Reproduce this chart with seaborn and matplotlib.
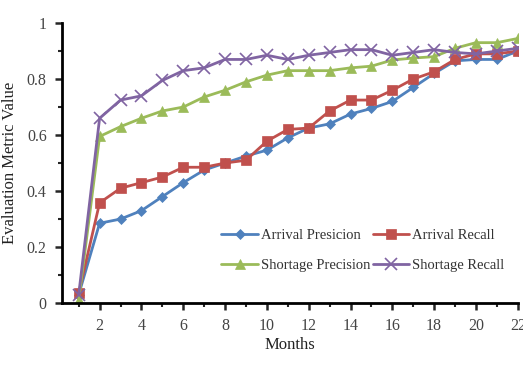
import numpy as np
import pandas as pd
import matplotlib
matplotlib.use('Agg')
import matplotlib.pyplot as plt
from matplotlib.ticker import MultipleLocator
import seaborn as sns

# ---- data ----
months = list(range(1, 23))
arrival_precision = [0.03, 0.285, 0.30, 0.33, 0.38, 0.43, 0.475, 0.50, 0.525, 0.546, 0.59, 0.625,
                     0.64, 0.675, 0.695, 0.72, 0.77, 0.82, 0.865, 0.87, 0.87, 0.90]
arrival_recall = [0.035, 0.358, 0.41, 0.43, 0.45, 0.485, 0.485, 0.50, 0.51, 0.578, 0.62, 0.625,
                  0.686, 0.725, 0.725, 0.76, 0.80, 0.826, 0.87, 0.89, 0.89, 0.90]
shortage_precision = [0.01, 0.595, 0.63, 0.66, 0.686, 0.70, 0.736, 0.76, 0.79, 0.814, 0.83, 0.83,
                      0.83, 0.84, 0.846, 0.868, 0.875, 0.88, 0.91, 0.93, 0.93, 0.945]
shortage_recall = [0.03, 0.66, 0.725, 0.74, 0.795, 0.83, 0.84, 0.87, 0.87, 0.885, 0.87, 0.885,
                   0.895, 0.905, 0.905, 0.885, 0.895, 0.905, 0.895, 0.89, 0.90, 0.91]

series = {
    'Arrival Presicion': arrival_precision,
    'Arrival Recall': arrival_recall,
    'Shortage Precision': shortage_precision,
    'Shortage Recall': shortage_recall,
}
colors = ['#4f81bd', '#c0504d', '#9bbb59', '#8064a2']
markers = ['D', 's', '^', 'x']
msizes = [5, 7, 7, 9]

sns.set_style('ticks')
plt.rcParams['font.family'] = ['Liberation Serif', 'DejaVu Serif']

fig = plt.figure(figsize=(5.23, 3.66), dpi=100)
ax = fig.add_axes([0.1185, 0.172, 0.8715, 0.765])

for (name, vals), c, m, ms in zip(series.items(), colors, markers, msizes):
    df = pd.DataFrame({'Months': months, 'value': vals})
    sns.lineplot(data=df, x='Months', y='value', ax=ax, color=c, marker=m,
                 markersize=ms, markeredgecolor=c, markeredgewidth=1.2 if m == 'x' else 0.5,
                 linewidth=2, label=name)

ax.set_xlim(0.2, 22)
ax.set_ylim(0, 1)
ax.xaxis.set_minor_locator(MultipleLocator(1))
ax.yaxis.set_minor_locator(MultipleLocator(0.1))
ax.set_xticks(range(2, 23, 2))
ax.set_xticklabels([str(v) for v in range(2, 23, 2)])
ax.set_yticks([0, 0.2, 0.4, 0.6, 0.8, 1.0])
ax.set_yticklabels(['0', '0.2', '0.4', '0.6', '0.8', '1'])

sns.despine(ax=ax)
for s in ['left', 'bottom']:
    ax.spines[s].set_linewidth(2)
    ax.spines[s].set_color('black')
ax.tick_params(which='major', length=5, width=1.8, labelsize=11.5, labelcolor='#444444', pad=6)
ax.tick_params(which='minor', length=3, width=1.5)

ax.set_xlabel('Months', fontsize=12, color='#222222', labelpad=2)
ax.set_ylabel('Evaluation Metric Value', fontsize=12, color='#222222', labelpad=6)

# row-wise legend order like the reference
h, l = ax.get_legend_handles_labels()
order = [0, 2, 1, 3]
ax.legend([h[i] for i in order], [l[i] for i in order],
          loc='lower right', bbox_to_anchor=(1.0, 0.065), ncol=2, frameon=False,
          fontsize=10.5, handlelength=2.5, columnspacing=0.2, handletextpad=0.2,
          labelspacing=1.1, labelcolor='#333333')

fig.savefig('out.png', dpi=100)
